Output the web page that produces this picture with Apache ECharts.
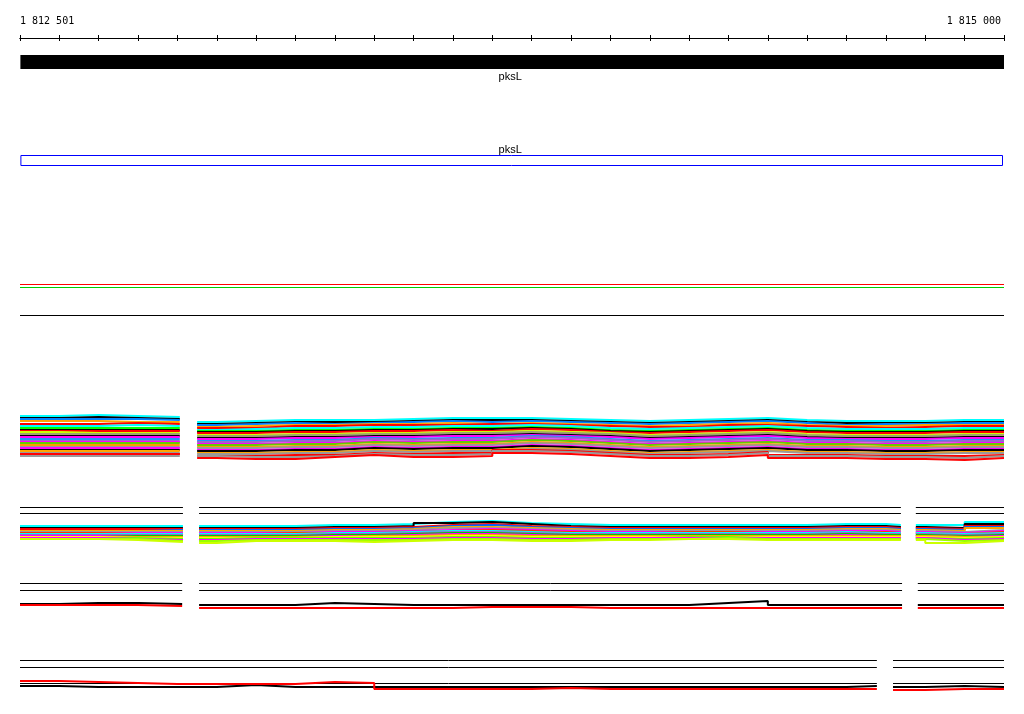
<!DOCTYPE html>
<html><head><meta charset="utf-8">
<script src="https://cdn.jsdelivr.net/npm/echarts@6/dist/echarts.min.js"></script>
<style>html,body{margin:0;padding:0;background:#fff}#chart{width:1024px;height:714px}</style>
</head><body><div id="chart"></div>
<script>
// ---------- data ----------
const VIEW_MIN = 1812500, VIEW_MAX = 1815000, BIN = 100;
const rulerLabels = {1812500: '1 812 501', 1815000: '1 815 000'};
const genes = [{name: 'pksL', start: 1812501, end: 1815000}];
const annotations = [{name: 'pksL', start: 1812501, end: 1815000}];
const featureColors = ['#ff0000', '#00cc00', '#000000'];
const featureValues = [4.5, 7.5, 35.5];

const gapsB1 = [[1812906, 1812950]];
const gapsB2 = [[1812914, 1812955], [1814738, 1814776]];
const gapsB3 = [[1812912, 1812955], [1814741, 1814781]];
const gapsB4 = [[1814677, 1814718]];

const block1Colors = ['#00ffff','#000000','#0080ff','#ffa500','#ff0000','#00ffff','#00ff00','#000000','#ff0000','#ccff00','#a0a070','#000000','#ff00ff','#1e90ff','#9966cc','#ff00ff','#66cc00','#ff9900','#999999','#ff00ff','#000000','#ffa500','#999999','#ff0000','#999999','#ff0000'];
const block1Values = [
 [16,15,16,17,22,21,20,20,20,19,18,18,18,19,20,21,20,19,18,20,21,21,21,20,20],
 [18,17,18,19,24,23,22,22,22,21,20,20,20,21,22,23,22,21,20,22,23,23,23,22,22],
 [19,19,19,20,25,24,23,24,23,22,21,22,21,22,23,24,23,22,21,23,25,24,24,23,23],
 [21,21,22,22,27,26,25,25,24,24,23,24,23,24,25,26,25,24,23,25,26,26,25,25,25],
 [24,24,23,24,28,28,26,26,25,25,25,24,24,25,26,27,27,25,25,26,27,28,27,26,26],
 [26,26,25,26,30,29,28,28,27,27,26,26,25,26,28,29,28,27,26,28,29,29,29,28,28],
 [28,28,28,28,31,31,30,30,29,29,28,28,27,28,30,31,30,29,28,30,31,31,31,30,30],
 [30,30,30,30,32,32,31,31,30,30,29,29,28,29,31,32,31,30,29,31,32,32,32,31,31],
 [31,31,31,31,33,33,32,32,31,31,30,31,29,30,32,33,32,31,30,32,33,33,33,32,32],
 [32,33,33,33,35,35,34,34,33,33,32,32,31,32,33,35,34,33,32,34,35,35,35,34,34],
 [34,34,34,34,36,36,35,35,34,34,33,33,32,33,34,36,35,34,33,35,36,36,36,35,35],
 [36,36,36,36,38,38,37,37,36,36,35,35,34,35,36,38,37,36,35,37,38,38,38,37,37],
 [37,37,37,37,39,39,38,38,37,37,36,36,35,36,37,39,38,37,36,38,39,39,39,38,38],
 [39,39,39,39,41,41,40,40,38,39,38,38,36,37,39,41,40,39,38,40,40,41,41,40,40],
 [41,41,41,41,42,42,41,41,39,40,39,39,37,38,40,42,41,40,39,41,41,42,42,41,41],
 [42,42,42,42,44,44,43,43,41,42,41,41,39,40,42,44,43,42,41,43,43,44,44,43,43],
 [43,43,43,43,45,45,44,44,42,43,42,42,40,41,43,45,44,43,42,44,44,45,45,44,44],
 [45,45,45,45,47,47,46,46,44,45,44,44,42,43,45,47,46,45,44,46,46,47,47,46,46],
 [47,47,47,47,48,48,47,47,45,46,45,45,43,44,46,48,47,46,45,47,47,48,48,47,47],
 [48,48,48,48,50,50,49,49,47,48,47,47,45,46,48,50,49,48,47,49,49,50,50,49,49],
 [50,50,50,50,51,51,50,50,48,49,48,48,46,47,49,51,50,49,48,50,50,51,51,50,50],
 [51,51,51,51,53,53,52,52,50,51,50,50,48,49,51,53,52,51,50,52,52,53,53,52,52],
 [53,53,53,53,54,54,53,53,51,52,51,51,49,50,52,54,53,52,51,53,53,54,54,53,53],
 [54,54,54,54,56,56,55,55,53,54,53,53,50,51,53,55,55,54,52,55,55,56,56,56,55],
 [56,56,56,56,56,57,57,56,54,55,55,54,51,52,54,56,56,55,53,56,56,57,57,58,56],
 [54,54,54,54,58,59,59,57,55,57,57,56,53,54,56,58,58,57,55,58,58,59,59,60,58]
];

const block2RefValues = [7.5, 13.5];
const block2Colors = ['#00ffff','#000000','#ff0000','#0066ff','#ffa500','#999999','#ff00ff','#ff3300','#00ffff','#9966cc','#00cc00','#ff00ff','#ffa500','#ffff00','#66ff00','#ff00ff','#99ff00','#ccff00'];
const block2Values = [
 [26,26,26,26,26,26,26,25,25,24,22,21,23,24,25,25,25,25,25,25,24,24,25,25,22],
 [28,28,28,28,28,28,28,27,27,26,23,22,24,26,27,27,27,27,27,27,26,26,27,28,24],
 [29,29,29,29,29,29,29,28,28,27,25,24,26,27,28,28,28,28,28,28,27,27,28,29,26],
 [31,31,31,30,30,30,30,29,29,28,26,25,27,28,29,29,29,29,29,29,28,28,29,30,27],
 [31,31,31,31,31,31,31,30,30,29,27,27,28,29,30,30,30,30,30,30,29,29,30,31,28],
 [32,32,32,32,32,32,32,31,31,30,28,28,29,30,31,31,31,31,31,31,30,30,31,32,30],
 [33,33,33,33,33,33,33,32,32,31,30,29,30,31,32,32,32,32,32,32,31,31,32,33,31],
 [33,33,34,34,34,34,33,33,33,32,31,30,31,32,33,33,32,32,33,33,32,32,33,34,32],
 [34,34,34,34,34,34,34,33,33,32,31,31,32,33,33,33,33,33,33,33,32,33,33,34,33],
 [35,35,35,35,35,35,35,34,34,33,32,32,33,34,34,34,34,34,34,34,33,34,34,35,34],
 [36,36,36,36,36,36,36,35,35,34,33,33,34,35,35,35,35,35,35,35,34,35,35,36,35],
 [36,36,37,37,37,37,37,36,36,35,34,34,35,36,36,36,36,36,36,36,35,36,36,37,36],
 [37,37,37,37,37,37,37,37,36,36,35,35,36,36,36,36,36,36,36,36,36,36,36,37,37],
 [37,37,38,38,38,38,38,37,37,37,36,36,37,37,37,37,37,37,37,37,37,37,37,38,37],
 [38,38,38,39,39,38,38,38,38,38,37,37,38,38,38,38,37,37,38,38,38,38,38,39,38],
 [38,38,39,40,40,39,39,39,39,39,38,38,39,39,38,38,38,38,38,38,38,38,38,40,39],
 [39,39,39,41,41,40,40,40,40,40,39,39,40,40,39,39,39,38,39,39,39,39,39,41,40],
 [39,39,40,42,43,41,41,41,42,41,40,40,41,41,40,40,39,39,40,40,40,40,40,43,41]
];

const block3RefValues = [8.5, 15.5];
const block3Black = [29,28,28,29,30,30,30,28,29,30,30,30,30,30,30,30,30,28,26,30,30,30,30,30,30];
const block3Red   = [30,30,30,31,33,33,33,33,33,33,33,32,32,32,33,33,33,33,33,33,33,33,33,33,33];

const block4RefValues = [10.5, 17.5, 33.5];
const block4Black = [36,37,37,37,37,35,37,37,37,37,37,37,37,37,37,37,37,37,37,37,37,36,37,36,37];
const block4Red   = [31,32,33,34,34,34,34,32,33,39,39,39,39,38,39,39,39,39,39,39,39,39,40,39,39];

// ---------- builders (explicit step vertices, null breaks at gaps) ----------
function stepData(vals, gaps) {
  const bps = [];
  for (let i = 0; i < vals.length; i++) bps.push(VIEW_MIN + i * BIN);
  gaps.forEach(g => { bps.push(g[0]); bps.push(g[1]); });
  bps.push(VIEW_MAX);
  const xs = Array.from(new Set(bps)).sort((a, b) => a - b);
  const valAt = x => vals[Math.max(0, Math.min(vals.length - 1, Math.floor((x - VIEW_MIN) / BIN)))];
  const pts = [];
  let last = null;
  xs.forEach(x => {
    const gs = gaps.find(g => g[0] === x);
    if (gs) { pts.push([x, last]); pts.push([(gs[0] + gs[1]) / 2, null]); last = null; return; }
    if (gaps.some(g => x > g[0] && x < g[1])) return;
    if (gaps.some(g => x < g[0] && g[0] - x < 20)) return;
    if (x === VIEW_MAX) { pts.push([x, last]); return; }
    const v = valAt(x);
    if (last !== null && last !== v) pts.push([x, last]);
    pts.push([x, v]);
    last = v;
  });
  return pts;
}
function flatData(v, gaps) {
  const pts = [[VIEW_MIN, v]];
  gaps.forEach(g => { pts.push([g[0], v]); pts.push([(g[0] + g[1]) / 2, null]); pts.push([g[1], v]); });
  pts.push([VIEW_MAX, v]);
  return pts;
}

// ---------- layout ----------
const L = 20, R = 20;
const grids = [
  {left: L, right: R, top: 38, height: 10},   // 0 ruler top-axis (labels, ticks up)
  {left: L, right: R, top: 28, height: 10},   // 1 ruler bottom-axis (ticks down)
  {left: L, right: R, top: 55, height: 14},   // 2 gene
  {left: L, right: R, top: 155, height: 11},  // 3 annotation
  {left: L, right: R, top: 280, height: 40},  // 4 features
  {left: L, right: R, top: 400, height: 70},  // 5 block1
  {left: L, right: R, top: 500, height: 50},  // 6 block2
  {left: L, right: R, top: 575, height: 40},  // 7 block3
  {left: L, right: R, top: 650, height: 50}   // 8 block4
];
const yRanges = [[0,1],[0,1],[0,1],[0,1],[0,40],[0,70],[0,50],[0,40],[0,50]];

const xAxes = grids.map((g, i) => ({
  type: 'value', gridIndex: i, min: VIEW_MIN, max: VIEW_MAX, interval: BIN,
  show: i <= 1, position: i === 0 ? 'top' : 'bottom',
  axisLine: {show: true, onZero: false, lineStyle: {color: '#000', width: 1}},
  axisTick: {show: true, length: 3, lineStyle: {color: '#000', width: 1}},
  splitLine: {show: false},
  axisLabel: i === 0 ? {
    show: true, interval: 0, margin: 12, color: '#000', fontSize: 10,
    fontFamily: 'DejaVu Sans Mono', showMinLabel: true, showMaxLabel: true,
    alignMinLabel: 'left', alignMaxLabel: 'right', padding: [0, 3, 0, 0],
    formatter: v => rulerLabels[v] || ''
  } : {show: false}
}));
const yAxes = grids.map((g, i) => ({
  type: 'value', gridIndex: i, min: yRanges[i][0], max: yRanges[i][1],
  inverse: i >= 4, show: false
}));

const series = [];
const lineBase = (gi, color, width, data) => ({
  type: 'line', xAxisIndex: gi, yAxisIndex: gi, data,
  showSymbol: false, symbol: 'none', silent: true, connectNulls: false,
  lineStyle: {color, width}, itemStyle: {color}, emphasis: {disabled: true}
});

series.push({
  type: 'custom', xAxisIndex: 2, yAxisIndex: 2, clip: false, silent: true,
  data: genes.map(g => [g.start, g.end]),
  encode: {x: [0, 1]},
  renderItem(params, api) {
    const cs = params.coordSys;
    const s = api.coord([api.value(0), 0])[0], e = api.coord([api.value(1), 0])[0];
    const x0 = Math.max(cs.x, s), x1 = Math.min(cs.x + cs.width, e);
    return {type: 'group', children: [
      {type: 'rect', shape: {x: x0, y: cs.y, width: x1 - x0, height: cs.height}, style: {fill: '#000'}},
      {type: 'text', style: {text: genes[params.dataIndex].name, x: (x0 + x1) / 2 - 2, y: cs.y + cs.height + 8,
        align: 'center', verticalAlign: 'middle', font: '11px "Liberation Sans"', fill: '#000'}}
    ]};
  }
});
series.push({
  type: 'custom', xAxisIndex: 3, yAxisIndex: 3, clip: false, silent: true,
  data: annotations.map(g => [g.start, g.end]),
  encode: {x: [0, 1]},
  renderItem(params, api) {
    const cs = params.coordSys;
    const s = api.coord([api.value(0), 0])[0], e = api.coord([api.value(1), 0])[0];
    const x0 = Math.max(cs.x, s), x1 = Math.min(cs.x + cs.width, e);
    return {type: 'group', children: [
      {type: 'rect', shape: {x: x0 + 0.5, y: cs.y + 0.5, width: x1 - x0 - 2, height: cs.height - 1},
        style: {fill: 'none', stroke: '#0000ff', lineWidth: 1}},
      {type: 'text', style: {text: annotations[params.dataIndex].name, x: (x0 + x1) / 2 - 2, y: cs.y - 5,
        align: 'center', verticalAlign: 'middle', font: '11px "Liberation Sans"', fill: '#000'}}
    ]};
  }
});

featureValues.forEach((v, i) => series.push(lineBase(4, featureColors[i], 1, flatData(v, []))));

block1Values.forEach((vals, i) => series.push(lineBase(5, block1Colors[i], 2, stepData(vals, gapsB1))));

block2RefValues.forEach(v => series.push(lineBase(6, '#000', 1, flatData(v, gapsB2))));
block2Values.forEach((vals, i) => series.push(lineBase(6, block2Colors[i], 2, stepData(vals, gapsB2))));

block3RefValues.forEach(v => series.push(lineBase(7, '#000', 1, flatData(v, gapsB3))));
series.push(lineBase(7, '#000', 2, stepData(block3Black, gapsB3)));
series.push(lineBase(7, '#ff0000', 2, stepData(block3Red, gapsB3)));

block4RefValues.forEach(v => series.push(lineBase(8, '#000', 1, flatData(v, gapsB4))));
series.push(lineBase(8, '#000', 2, stepData(block4Black, gapsB4)));
series.push(lineBase(8, '#ff0000', 2, stepData(block4Red, gapsB4)));

const chart = echarts.init(document.getElementById('chart'), null, {renderer: 'canvas'});
chart.setOption({
  animation: false, backgroundColor: '#fff',
  grid: grids, xAxis: xAxes, yAxis: yAxes, series
});
</script></body></html>
